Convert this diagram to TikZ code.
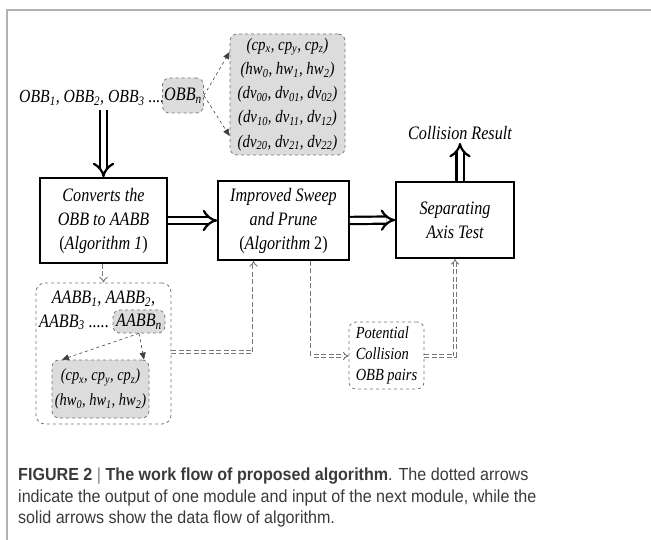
\documentclass[tikz,border=0pt]{standalone}
\usepackage{fontspec}
\setmainfont{Liberation Serif}[FakeStretch=0.85]
\newfontfamily\capfont{Liberation Sans}[FakeStretch=0.92]
\usetikzlibrary{arrows.meta}
\newcommand\sbs[1]{\textsubscript{#1}}
\definecolor{boxgray}{HTML}{DCDCDC}
\definecolor{dashgray}{HTML}{777777}
\definecolor{captext}{HTML}{3A3A3A}
\tikzset{
  proc/.style={draw=black, line width=1.6pt, fill=white, align=center,
    font=\itshape\fontsize{19}{24}\selectfont, inner sep=0pt},
  graybox/.style={draw=dashgray, dashed, line width=0.8pt, fill=boxgray,
    rounded corners=7pt, inner sep=0pt, align=center},
  openbox/.style={draw=dashgray, dashed, line width=0.8pt, fill=none,
    rounded corners=9pt, inner sep=0pt},
  blockarrow/.style={draw=black, line width=2.2pt, double=white,
    double distance=5pt, -{Implies[scale=1.1]}},
  dblarrow/.style={draw=dashgray, line width=0.9pt, double=white,
    double distance=2pt, dash pattern=on 5pt off 2.5pt, -{Implies[scale=1.6]}},
  thinarrow/.style={draw=black!75, dashed, line width=0.6pt,
    -{Triangle[length=7pt,width=6pt]}},
  ittext/.style={font=\itshape\fontsize{19}{24}\selectfont, inner sep=0pt}
}
\begin{document}
\begin{tikzpicture}[x=1pt,y=-1pt]
\useasboundingbox (0,0) rectangle (651,540);
% frame
\draw[gray!60, line width=1.5pt] (7,540) -- (7,10) -- (651,10);

% top texts
\node[ittext, anchor=base west, font=\itshape\fontsize{18.5}{24}\selectfont] (obbtext) at (19,103)
  {OBB\sbs{1}, OBB\sbs{2}, OBB\sbs{3} ....};
\node[graybox, minimum width=41pt, minimum height=35pt,
  font=\itshape\fontsize{19}{24}\selectfont] (obbn) at (183,95.5) {OBB\sbs{n}};
\node[graybox, minimum width=115pt, minimum height=121pt,
  font=\itshape\fontsize{17.5}{24.2}\selectfont] (data) at (287.5,94.5)
  {(cp\sbs{x}, cp\sbs{y}, cp\sbs{z})\\
   (hw\sbs{0}, hw\sbs{1}, hw\sbs{2})\\
   (dv\sbs{00}, dv\sbs{01}, dv\sbs{02})\\
   (dv\sbs{10}, dv\sbs{11}, dv\sbs{12})\\
   (dv\sbs{20}, dv\sbs{21}, dv\sbs{22})};

% process boxes
\node[proc, minimum width=127pt, minimum height=85pt] (box1) at (103.5,220.5)
  {Converts the\\OBB to AABB\\\upshape(\textit{Algorithm 1})};
\node[proc, minimum width=131pt, minimum height=79pt] (box2) at (283.5,220.5)
  {Improved Sweep\\and Prune\\\upshape(\textit{Algorithm} 2)};
\node[proc, minimum width=118pt, minimum height=76pt] (box3) at (455,220)
  {Separating\\Axis Test};
\node[ittext] (result) at (460,133) {Collision Result};

% lower containers
\node[openbox, minimum width=135pt, minimum height=141pt] (aabb) at (103.5,353.5) {};
\node[ittext, anchor=base] (aabbtop) at (103.5,304) {AABB\sbs{1}, AABB\sbs{2},};
\node[ittext, anchor=base west] (aabbrow) at (39,327) {AABB\sbs{3} .....};
\node[graybox, minimum width=52pt, minimum height=23pt,
  font=\itshape\fontsize{19}{24}\selectfont] (aabbn) at (139,321.5) {AABB\sbs{n}};
\node[graybox, minimum width=97pt, minimum height=58pt,
  font=\itshape\fontsize{17}{25}\selectfont] (inner) at (100.5,389)
  {(cp\sbs{x}, cp\sbs{y}, cp\sbs{z})\\(hw\sbs{0}, hw\sbs{1}, hw\sbs{2})};
\node[openbox, rounded corners=7pt, minimum width=75pt, minimum height=67pt,
  align=left, font=\itshape\fontsize{17}{21}\selectfont] (pot) at (386.5,355.5)
  {Potential\\Collision\\OBB pairs};

% solid block arrows
\draw[blockarrow] (box1.north |- obbtext.south) ++(0,4) -- (box1.north);
\draw[blockarrow] (box1.east) -- (box2.west);
\draw[blockarrow] (box2.east) -- (box3.west);
\draw[blockarrow] (box3.north -| result.south) -- ([yshift=-3pt]result.south);

% thin dashed arrows
\draw[thinarrow] (obbn.east) -- ([yshift=42.5pt]data.west);
\draw[thinarrow] (obbn.east) -- ([yshift=-41.5pt]data.west);
\draw[thinarrow] (aabbn.south) -- ([xshift=-38.5pt]inner.north);
\draw[thinarrow] (aabbn.south) -- ([xshift=43.5pt]inner.north);

% dashed double arrows
\draw[dblarrow] (box1.south) -- (aabb.north);
\draw[dblarrow] ([yshift=1.5pt]aabb.east) -| ([xshift=-30pt]box2.south);
\draw[dblarrow] ([xshift=28pt]box2.south) |- ([yshift=-0.5pt]pot.west);
\draw[dblarrow] ([yshift=-0.5pt]pot.east) -| (box3.south);

% caption
\node[anchor=north west, inner sep=0pt, align=left, text=captext,
  font=\capfont\fontsize{17.5}{21.5}\selectfont] (caption) at (18,468)
  {\textbf{FIGURE 2} {\color{gray}|} \textbf{The work flow of proposed algorithm}. The dotted arrows\\
   indicate the output of one module and input of the next module, while the\\
   solid arrows show the data flow of algorithm.};
\end{tikzpicture}
\end{document}
